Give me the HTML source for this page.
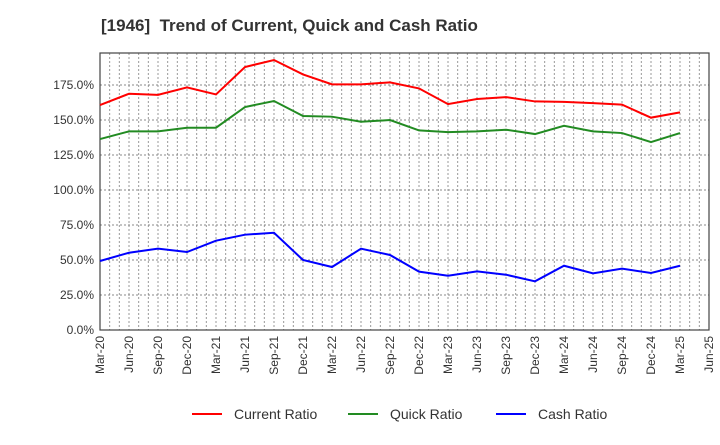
<!DOCTYPE html>
<html><head><meta charset="utf-8"><style>
body{margin:0;background:#fff;font-family:"Liberation Sans",Arial,sans-serif}
svg text{font-family:"Liberation Sans",Arial,sans-serif}
</style></head><body>
<svg id="c" width="720" height="440" xmlns="http://www.w3.org/2000/svg">
<text x="101" y="31" font-size="17" font-weight="bold" fill="#333" xml:space="preserve">[1946]  Trend of Current, Quick and Cash Ratio</text>
<g id="grid"></g><g id="axes"></g><g id="series"></g><g id="legend"></g>
</svg>
<script>
const xLabels=["Mar-20","Jun-20","Sep-20","Dec-20","Mar-21","Jun-21","Sep-21","Dec-21","Mar-22","Jun-22","Sep-22","Dec-22","Mar-23","Jun-23","Sep-23","Dec-23","Mar-24","Jun-24","Sep-24","Dec-24","Mar-25","Jun-25"];
const yTicks=[0,25,50,75,100,125,150,175];
const currentRatio=[160.7,168.8,168,173.3,168.3,187.9,192.9,182.6,175.5,175.5,176.9,172.6,161.4,165,166.4,163.3,163,162.1,161,151.7,155.5];
const quickRatio=[136.4,141.9,141.9,144.5,144.5,159.3,163.6,152.9,152.4,148.8,150,142.6,141.4,141.9,143.1,140,145.9,141.9,140.7,134.3,140.7];
const cashRatio=[49.3,55.2,58.1,55.7,63.8,68.1,69.5,50,45,58.1,53.6,41.7,38.8,41.9,39.5,34.8,45.9,40.5,43.8,40.7,45.9];
const L=100,R=709,T=53,B=330,yMax=197.9;
const NS="http://www.w3.org/2000/svg";
const xq=i=>L+(R-L)*i/(xLabels.length-1);
const y=v=>B-(B-T)*v/yMax;
function mk(tag,attrs,parent){const e=document.createElementNS(NS,tag);for(const k in attrs)e.setAttribute(k,attrs[k]);parent.appendChild(e);return e;}
const grid=document.getElementById('grid'),axes=document.getElementById('axes'),ser=document.getElementById('series'),leg=document.getElementById('legend');
const months=(xLabels.length-1)*3;
for(let m=1;m<months;m++){const x=L+(R-L)*m/months;
const g=mk('line',{x1:x,x2:x,y1:T,y2:B,stroke:'#999','stroke-dasharray':'2,2','stroke-width':1},grid);

}
yTicks.forEach(v=>{if(v>0){const g=mk('line',{x1:L,x2:R,y1:y(v),y2:y(v),stroke:'#888','stroke-dasharray':'2,2','stroke-width':1},grid);

}
const t=mk('text',{x:L-6,y:y(v)+4,'text-anchor':'end','font-size':12,fill:'#333'},axes);t.textContent=v.toFixed(1)+'%';

});
const fr=mk('rect',{x:L,y:T,width:R-L,height:B-T,fill:'none',stroke:'#444','stroke-width':1.2},axes);


xLabels.forEach((s,i)=>{const x=xq(i);const t=mk('text',{x:x+4,y:B+6,'text-anchor':'end','font-size':12,fill:'#333',transform:`rotate(-90 ${x+4} ${B+6})`},axes);t.textContent=s;

});
[[currentRatio,'#ff0000','current-ratio-line'],[quickRatio,'#228b22','quick-ratio-line'],[cashRatio,'#0000ff','cash-ratio-line']].forEach(([d,c,n])=>{
const p=mk('polyline',{points:d.map((v,i)=>xq(i)+','+y(v)).join(' '),fill:'none',stroke:c,'stroke-width':2},ser);

});
[[192,'#ff0000','Current Ratio','legend-current'],[348,'#228b22','Quick Ratio','legend-quick'],[496,'#0000ff','Cash Ratio','legend-cash']].forEach(([x,c,s,n])=>{
const g=mk('g',{},leg);


mk('line',{x1:x,x2:x+30,y1:414,y2:414,stroke:c,'stroke-width':2},g);
const t=mk('text',{x:x+42,y:419,'font-size':14,fill:'#333'},g);t.textContent=s;});
</script>
</body></html>
